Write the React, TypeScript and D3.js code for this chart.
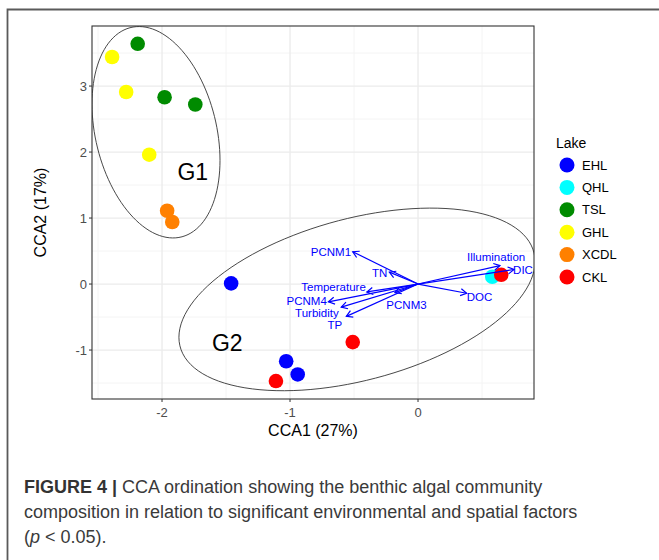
import React from "react";
import * as d3 from "d3";

// legend / colour order
const lakes = ["EHL", "QHL", "TSL", "GHL", "XCDL", "CKL"];
const lakeColors = ["#0000ff", "#00ffff", "#008b00", "#ffff00", "#ff8000", "#ff0000"];

// sample scores (draw order matters: CKL drawn over QHL)
const siteLake = ["TSL", "TSL", "TSL", "GHL", "GHL", "GHL", "XCDL", "XCDL", "EHL", "EHL", "EHL", "QHL", "CKL", "CKL", "CKL"];
const siteCCA1 = [-2.19, -1.98, -1.74, -2.39, -2.28, -2.1, -1.96, -1.92, -1.46, -1.03, -0.94, 0.58, -0.51, -1.11, 0.65];
const siteCCA2 = [3.64, 2.83, 2.72, 3.44, 2.91, 1.96, 1.11, 0.94, 0.01, -1.17, -1.37, 0.11, -0.88, -1.47, 0.14];

// environmental vectors
const envNames = ["PCNM1", "TN", "DOC", "Illumination", "DIC", "Temperature", "PCNM4", "Turbidity", "TP", "PCNM3"];
const envCCA1 = [-0.51, -0.224, 0.38, 0.64, 0.75, -0.4, -0.7, -0.6, -0.56, -0.18];
const envCCA2 = [0.49, 0.18, -0.14, 0.28, 0.22, -0.12, -0.27, -0.35, -0.49, -0.13];
const envLabelCCA1 = [-0.68, -0.3, 0.48, 0.61, 0.82, -0.66, -0.87, -0.79, -0.65, -0.09];
const envLabelCCA2 = [0.49, 0.17, -0.19, 0.41, 0.22, -0.04, -0.26, -0.44, -0.62, -0.32];

// group ellipses: centre + two conjugate semi-axes (data units)
const groupNames = ["G1", "G2"];
const groupCenter = [[-2.047, 2.3], [-0.477, -0.233]];
const groupAxisA = [[0.5, -0.426], [1.391, 0.574]];
const groupAxisB = [[0, -1.544], [0, 1.259]];
const groupLabelAt = [[-1.76, 1.7], [-1.49, -0.9]];

const xTicks = [-2, -1, 0];
const yTicks = [-1, 0, 1, 2, 3];
const xMinor = [-2.5, -1.5, -0.5, 0.5];
const yMinor = [-1.5, -0.5, 0.5, 1.5, 2.5, 3.5];

const W = 659;
const H = 560;
const panel = { left: 92, right: 534, top: 26, bottom: 399 };
const font = "'Liberation Sans', Arial, sans-serif";

const App = () => {
  const x = d3.scaleLinear().domain([-2.547, 0.906]).range([panel.left, panel.right]);
  const y = d3.scaleLinear().domain([-1.742, 3.91]).range([panel.bottom, panel.top]);

  const line = d3.line();
  const ellipsePath = (i) => {
    const [cx, cy] = groupCenter[i];
    const [ax, ay] = groupAxisA[i];
    const [bx, by] = groupAxisB[i];
    const pts = d3.range(0, 360, 3).map((deg) => {
      const t = (deg * Math.PI) / 180;
      return [x(cx + ax * Math.cos(t) + bx * Math.sin(t)), y(cy + ay * Math.cos(t) + by * Math.sin(t))];
    });
    return line(pts) + "Z";
  };

  const arrowHead = (i) => {
    const x0 = x(0), y0 = y(0);
    const x1 = x(envCCA1[i]), y1 = y(envCCA2[i]);
    const ang = Math.atan2(y1 - y0, x1 - x0);
    const len = 7;
    const a1 = ang + Math.PI - Math.PI / 6;
    const a2 = ang + Math.PI + Math.PI / 6;
    return `M${x1 + len * Math.cos(a1)},${y1 + len * Math.sin(a1)}L${x1},${y1}L${x1 + len * Math.cos(a2)},${y1 + len * Math.sin(a2)}`;
  };

  const color = (l) => lakeColors[lakes.indexOf(l)];

  return (
    <svg width={W} height={H} style={{ display: "block", background: "#fff" }} fontFamily={font}>
      <style>{`body{margin:0}`}</style>
      <defs>
        <clipPath id="panel">
          <rect x={panel.left} y={panel.top} width={panel.right - panel.left} height={panel.bottom - panel.top} />
        </clipPath>
      </defs>
      {/* outer frame */}
      <path d={`M7.5,${H}V9.5H${W + 5}`} fill="none" stroke="#5a5a5a" strokeWidth={1.8} />

      {/* grid */}
      {xMinor.map((t) => (
        <line key={"xm" + t} x1={x(t)} x2={x(t)} y1={panel.top} y2={panel.bottom} stroke="#f4f4f4" strokeWidth={1} />
      ))}
      {yMinor.map((t) => (
        <line key={"ym" + t} y1={y(t)} y2={y(t)} x1={panel.left} x2={panel.right} stroke="#f4f4f4" strokeWidth={1} />
      ))}
      {xTicks.map((t) => (
        <line key={"xg" + t} x1={x(t)} x2={x(t)} y1={panel.top} y2={panel.bottom} stroke="#ebebeb" strokeWidth={1.3} />
      ))}
      {yTicks.map((t) => (
        <line key={"yg" + t} y1={y(t)} y2={y(t)} x1={panel.left} x2={panel.right} stroke="#ebebeb" strokeWidth={1.3} />
      ))}

      {/* points */}
      {siteLake.map((l, i) => (
        <circle key={"p" + i} cx={x(siteCCA1[i])} cy={y(siteCCA2[i])} r={7.3} fill={color(l)} />
      ))}

      {/* ellipses */}
      <g clipPath="url(#panel)">
        {groupNames.map((g, i) => (
          <path key={g} d={ellipsePath(i)} fill="none" stroke="#333" strokeWidth={0.9} />
        ))}
      </g>
      {groupNames.map((g, i) => (
        <text key={"gl" + g} x={x(groupLabelAt[i][0])} y={y(groupLabelAt[i][1])} textAnchor="middle" dominantBaseline="central" fontSize={23} fill="#000">
          {g}
        </text>
      ))}

      {/* environmental arrows */}
      {envNames.map((n, i) => (
        <g key={n} stroke="#0000ff" strokeWidth={1.2} fill="none">
          <line x1={x(0)} y1={y(0)} x2={x(envCCA1[i])} y2={y(envCCA2[i])} />
          <path d={arrowHead(i)} />
        </g>
      ))}
      {envNames.map((n, i) => (
        <text key={"el" + n} x={x(envLabelCCA1[i])} y={y(envLabelCCA2[i])} textAnchor="middle" dominantBaseline="central" fontSize={11.5} fill="#0000ff">
          {n}
        </text>
      ))}

      {/* panel border */}
      <rect x={panel.left} y={panel.top} width={panel.right - panel.left} height={panel.bottom - panel.top} fill="none" stroke="#333" strokeWidth={1.1} />

      {/* axes */}
      {xTicks.map((t) => (
        <g key={"xt" + t}>
          <line x1={x(t)} x2={x(t)} y1={panel.bottom} y2={panel.bottom + 3} stroke="#333" />
          <text x={x(t)} y={panel.bottom + 13} textAnchor="middle" dominantBaseline="central" fontSize={13} fill="#4d4d4d">
            {t}
          </text>
        </g>
      ))}
      {yTicks.map((t) => (
        <g key={"yt" + t}>
          <line x1={panel.left - 3} x2={panel.left} y1={y(t)} y2={y(t)} stroke="#333" />
          <text x={panel.left - 5} y={y(t)} textAnchor="end" dominantBaseline="central" fontSize={13} fill="#4d4d4d">
            {t}
          </text>
        </g>
      ))}
      <text x={(panel.left + panel.right) / 2} y={430} textAnchor="middle" dominantBaseline="central" fontSize={16} fill="#000">
        CCA1 (27%)
      </text>
      <text transform={`translate(40,${(panel.top + panel.bottom) / 2}) rotate(-90)`} textAnchor="middle" dominantBaseline="central" fontSize={16} fill="#000">
        CCA2 (17%)
      </text>

      {/* legend */}
      <text x={556} y={143} dominantBaseline="central" fontSize={14} fill="#000">
        Lake
      </text>
      {lakes.map((l, i) => (
        <g key={"lg" + l} transform={`translate(567,${165 + i * 22.4})`}>
          <circle r={7.5} fill={lakeColors[i]} />
          <text x={15} dominantBaseline="central" fontSize={13} fill="#000">
            {l}
          </text>
        </g>
      ))}

      {/* caption */}
      <text x={24} y={487} dominantBaseline="central" fontSize={18} fill="#3a3a3a">
        <tspan fontWeight="bold" fill="#333">FIGURE 4 | </tspan>
        CCA ordination showing the benthic algal community
      </text>
      <text x={24} y={512} dominantBaseline="central" fontSize={18} fill="#3a3a3a">
        composition in relation to significant environmental and spatial factors
      </text>
      <text x={24} y={537} dominantBaseline="central" fontSize={18} fill="#3a3a3a">
        (<tspan fontStyle="italic">p</tspan> {"<"} 0.05).
      </text>
    </svg>
  );
};

export default App;
